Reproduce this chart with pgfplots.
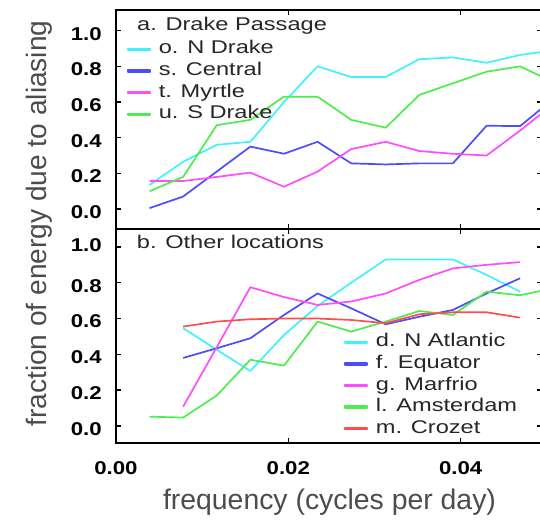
\documentclass[border=0pt]{standalone}
\usepackage{pgfplots}
\pgfplotsset{compat=1.18}
\usepackage{pgfplotstable}
\usepackage{fontspec}
\setmainfont{Liberation Sans}
\newfontfamily\legfont[FakeStretch=1.28]{Liberation Sans}
\newfontfamily\tickfont[FakeStretch=1.2]{Liberation Sans}

\definecolor{lcyan}{rgb}{0.25,0.95,1}
\definecolor{lblue}{rgb}{0.3,0.3,1}
\definecolor{lmag}{rgb}{1,0.3,1}
\definecolor{lgreen}{rgb}{0.3,0.93,0.3}
\definecolor{lred}{rgb}{1,0.3,0.3}

% a. Drake Passage moorings
\pgfplotstableread{
x      nd    ce    my    sd
0.0039 0.135 0.005 0.157 0.10
0.0078 0.265 0.07  0.157 0.18
0.0117 0.36  0.21  0.18  0.47
0.0156 0.377 0.35  0.204 0.50
0.0195 0.60  0.31  0.125 0.63
0.0234 0.80  0.377 0.21  0.63
0.0273 0.74  0.256 0.336 0.50
0.0313 0.74  0.25  0.377 0.456
0.0352 0.84  0.256 0.325 0.64
0.0391 0.85  0.256 0.31  0.705
0.0430 0.82  0.467 0.30  0.77
0.0469 0.864 0.465 0.44  0.80
0.0508 0.89  0.62  0.59  0.71
}\drake

% b. other locations
\pgfplotstableread{
x      na    eq    ma    am    cr
0.0039 nan   nan   nan   0.052 nan
0.0078 0.546 0.38  0.108 0.047 0.555
0.0117 0.426 0.434 0.44  0.17  0.583
0.0156 0.307 0.49  0.775 0.37  0.596
0.0195 0.508 0.62  0.72  0.337 0.60
0.0234 0.67  0.74  0.676 0.583 0.60
0.0273 0.80  0.657 0.695 0.527 0.592
0.0313 0.93  0.568 0.74  0.583 0.574
0.0352 0.93  0.61  0.816 0.642 0.624
0.0391 0.93  0.648 0.88  0.62  0.635
0.0430 0.844 0.74  0.90  0.75  0.635
0.0469 0.75  0.825 0.915 0.73  0.605
0.0508 nan   nan   nan   0.77  nan
}\others

\pgfplotsset{
  panel/.style={
    scale only axis, width=425.7bp, xmin=0, xmax=0.04939,
    axis line style={line width=2.8bp},
    every tick/.style={black, line width=1.4bp}, major tick length=5bp,
    tick align=inside,
    scaled x ticks=false, scaled y ticks=false,
    xtick={0,0.02,0.04}, ytick={0,0.2,0.4,0.6,0.8,1},
    /pgf/number format/assume math mode=true,
    yticklabel style={font=\tickfont\bfseries\fontsize{18.6}{20}\selectfont,
      inner sep=0pt, xshift=-14bp, yshift=-3bp},
    every axis plot/.append style={line width=1.7bp, line join=round},
    legend style={draw=none, fill=none, inner sep=0pt, row sep=0pt,
      font=\legfont\fontsize{18.5}{20}\selectfont, text=black!85,
      cells={anchor=west},
      nodes={inner xsep=4bp, inner ysep=1.8bp, text height=13.5bp, text depth=4.5bp}},
    legend image code/.code={%
      \fill[#1] (0bp,-0.85bp) rectangle (22bp,0.85bp);
      \path (26bp,0bp);},
  }
}

\begin{document}
\begin{tikzpicture}
\begin{axis}[panel, at={(115.9bp,292bp)}, anchor=south west, height=219bp,
  ymin=-0.112, ymax=1.116, xticklabels={},
  yticklabels={0.0,0.2,0.4,0.6,0.8,1.0},
  legend style={at={(0.026,0.870)}, anchor=north west}]
\addplot[lcyan]  table[x=x,y=nd]{\drake};
\addplot[lblue]  table[x=x,y=ce]{\drake};
\addplot[lmag]   table[x=x,y=my]{\drake};
\addplot[lgreen] table[x=x,y=sd]{\drake};
\legend{o. N Drake, s. Central, t. Myrtle, u. S Drake}
\end{axis}

\begin{axis}[panel, at={(115.9bp,78bp)}, anchor=south west, height=214bp,
  ymin=-0.095, ymax=1.10,
  yticklabels={0.0,0.2,0.4,0.6,0.8,\raisebox{9.5bp}{1.0}},
  xticklabel style={font=\tickfont\bfseries\fontsize{18.6}{20}\selectfont,
    inner sep=0pt, yshift=-18.7bp},
  xticklabels={0.00,0.02,0.04},
  legend style={at={(0.536,0.5215)}, anchor=north west}]
\addplot[lcyan]  table[x=x,y=na]{\others};
\addplot[lblue]  table[x=x,y=eq]{\others};
\addplot[lmag]   table[x=x,y=ma]{\others};
\addplot[lgreen] table[x=x,y=am]{\others};
\addplot[lred]   table[x=x,y=cr]{\others};
\legend{d. N Atlantic, f. Equator, g. Marfrio, l. Amsterdam, m. Crozet}
\end{axis}

\node[anchor=base west, inner sep=0pt, font=\legfont\fontsize{18.5}{20}\selectfont, text=black!85]
  at (137bp,490.3bp) {a. Drake Passage};
\node[anchor=base west, inner sep=0pt, font=\legfont\fontsize{18.5}{20}\selectfont, text=black!85]
  at (136.7bp,272.7bp) {b. Other locations};

\node[rotate=90, anchor=base, inner sep=0pt, font=\fontsize{28.2}{30}\selectfont, text=black!70]
  at (46bp,297.5bp) {fraction of energy due to aliasing};
\node[anchor=base, inner sep=0pt, font=\fontsize{28.5}{30}\selectfont, text=black!70]
  at (329.5bp,12bp) {frequency (cycles per day)};

\pgfresetboundingbox
\useasboundingbox (0,0) rectangle (540bp,521bp);
\end{tikzpicture}
\end{document}
